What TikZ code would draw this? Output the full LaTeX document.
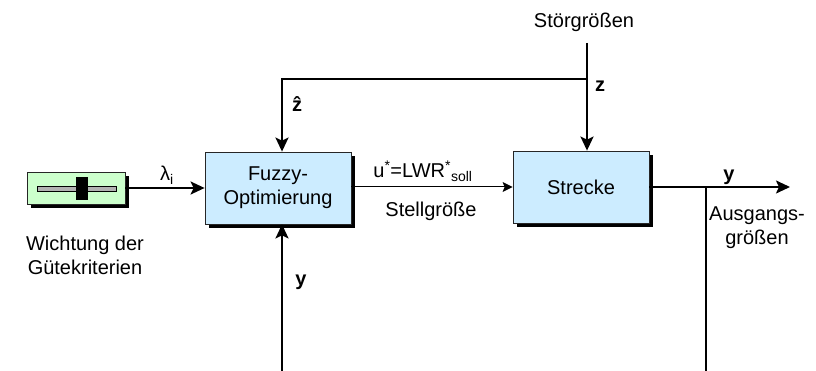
\documentclass[tikz,border=0pt]{standalone}
\usepackage{fontspec}
\setmainfont{Liberation Sans}
\usetikzlibrary{arrows.meta,shadows}
\definecolor{boxblue}{RGB}{204,236,255}
\definecolor{slidergreen}{RGB}{204,255,204}
\definecolor{trackgray}{RGB}{178,178,178}
\begin{document}
\begin{tikzpicture}[x=1pt,y=-1pt,
  txt/.style={font=\fontsize{20}{24}\selectfont, inner sep=0pt, align=center},
  lbl/.style={font=\fontsize{20}{24}\selectfont\bfseries, inner sep=0pt},
  shadowed/.style={drop shadow={shadow xshift=4pt,shadow yshift=-4pt,opacity=1,fill=black}},
  block/.style={draw=black!85, line width=0.8pt, fill=boxblue, shadowed,
    minimum height=72pt, txt},
  thickarrow/.style={line width=2pt, -{Stealth[length=14pt,width=13pt,inset=3pt]}},
  thinarrow/.style={line width=1pt, -{Stealth[length=10pt,width=10pt,inset=2pt]}},
  thickline/.style={line width=2pt}
]
\useasboundingbox (0,0) rectangle (816,371);

% blocks
\node[block, minimum width=146pt] (fuzzy) at (278,188) {Fuzzy-\\Optimierung};
\node[block, minimum width=136pt] (strecke) at (581,187) {Strecke};

% slider
\node[draw=black!85, line width=0.8pt, fill=slidergreen, shadowed,
  minimum width=98pt, minimum height=32pt, inner sep=0pt] (slider) at (76,188) {};
\node[draw=black, line width=0.8pt, fill=trackgray, minimum width=79pt,
  minimum height=5pt, inner sep=0pt] (track) at (76.5,188.5) {};
\node[fill=black, minimum width=12pt, minimum height=23pt, inner sep=0pt] (thumb) at (82,189) {};

% texts
\node[txt] (wicht) at (85,255) {Wichtung der\\Gütekriterien};
\node[txt, anchor=base] (stoer) at (584,28) {Störgrößen};
\node[txt] (ausg) at (757,228) {Ausgangs-\\größen};
\node[txt] (stell) at (431,211) {Stellgröße};
\node[txt, anchor=base] (ustar) at (423,178) {u\textsuperscript{*}=LWR\textsuperscript{*}\textsubscript{\fontsize{14}{16}\selectfont soll}};
\node[txt, anchor=base] (lam) at (167,181) {λ\textsubscript{i}};

% coordinates
\coordinate (zin) at (587,43);
\coordinate (zj) at (587,79);
\coordinate (zc) at (282,79);
\coordinate (out) at (790,187);
\coordinate (br) at (706,187);
\coordinate (brend) at (706,371);
\coordinate (fb) at (282,371);

% connectors
\draw[thickarrow] (slider.east) -- (slider.east -| fuzzy.west);
\draw[thinarrow] (fuzzy.east |- strecke.west) -- (strecke.west);
\draw[thickarrow] (zin) -- (zin |- strecke.north);
\draw[thickarrow] (zj) -- (zc) -- (zc |- fuzzy.north);
\draw[thickarrow] (strecke.east) -- (out);
\draw[thickline] (br) -- (brend);
\draw[thickarrow] (fb) -- (fb |- fuzzy.south);

% bold labels
\node[lbl] (zhat) at (297,104) {\^{z}};
\node[lbl] (zlab) at (600,86) {z};
\node[lbl, anchor=base] (ylab1) at (729,181) {y};
\node[lbl, anchor=base] (ylab2) at (301,285) {y};
\end{tikzpicture}
\end{document}
